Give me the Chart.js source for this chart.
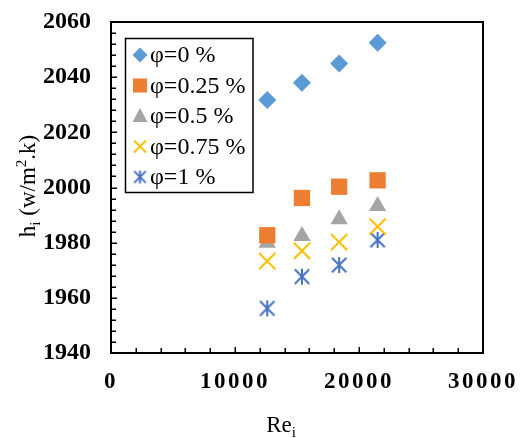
<!DOCTYPE html>
<html>
<head>
<meta charset="utf-8">
<script src="https://cdn.jsdelivr.net/npm/chart.js@4"></script>
<style>
  html, body { margin: 0; padding: 0; background: #fff; }
  #wrap { width: 524px; height: 438px; }
</style>
</head>
<body>
<div id="wrap"><canvas id="chart" width="524" height="438"></canvas></div>
<script>
// data
const reValues = [12600, 15400, 18400, 21500];
const hPhi0 = [2031.7, 2038.0, 2045.0, 2052.5];
const hPhi025 = [1982.7, 1996.2, 2000.3, 2002.6];
const hPhi05 = [1980.0, 1982.4, 1988.5, 1993.3];
const hPhi075 = [1973.3, 1977.0, 1980.2, 1985.8];
const hPhi1 = [1956.2, 1967.7, 1971.9, 1981.0];
const seriesLabels = ["φ=0 %", "φ=0.25 %", "φ=0.5 %", "φ=0.75 %", "φ=1 %"];
const xTicks = [0, 10000, 20000, 30000];
const yTicks = [1940, 1960, 1980, 2000, 2020, 2040, 2060];

const FONT = "'Liberation Serif', 'Times New Roman', serif";

// asterisk marker (x plus vertical bar) as a small canvas
function makeAsterisk(size, color, lw) {
  const c = document.createElement("canvas");
  c.width = size; c.height = size;
  const g = c.getContext("2d");
  const m = size / 2, a = size / 2 - 1, d = a * 0.9;
  g.strokeStyle = color;
  g.lineWidth = lw;
  g.beginPath();
  g.moveTo(m, m - a); g.lineTo(m, m + a);
  g.moveTo(m - d, m - d); g.lineTo(m + d, m + d);
  g.moveTo(m + d, m - d); g.lineTo(m - d, m + d);
  g.stroke();
  return c;
}

const colors = ["#5B9BD5", "#ED7D31", "#A5A5A5", "#FFC000", "#4472C4"];
const toPts = (ys) => ys.map((y, i) => ({ x: reValues[i], y: y }));

const datasets = [
  { label: seriesLabels[0], data: toPts(hPhi0), pointStyle: "rectRot", pointRadius: 9,
    backgroundColor: colors[0], borderColor: colors[0], borderWidth: 0 },
  { label: seriesLabels[1], data: toPts(hPhi025), pointStyle: "rect", pointRadius: 11.5,
    backgroundColor: colors[1], borderColor: colors[1], borderWidth: 0 },
  { label: seriesLabels[2], data: toPts(hPhi05), pointStyle: "triangle", pointRadius: 10,
    backgroundColor: colors[2], borderColor: colors[2], borderWidth: 0 },
  { label: seriesLabels[3], data: toPts(hPhi075), pointStyle: "crossRot", pointRadius: 11.5,
    backgroundColor: colors[3], borderColor: colors[3], borderWidth: 2 },
  { label: seriesLabels[4], data: toPts(hPhi1), pointStyle: makeAsterisk(18, colors[4], 2),
    pointRadius: 9, backgroundColor: colors[4], borderColor: colors[4], borderWidth: 0 },
];

// small legend markers
function legendMarker(ctx, i, x, y) {
  ctx.save();
  ctx.fillStyle = colors[i];
  ctx.strokeStyle = colors[i];
  ctx.beginPath();
  if (i === 0) {
    const r = 7.5;
    ctx.moveTo(x, y - r); ctx.lineTo(x + r, y); ctx.lineTo(x, y + r); ctx.lineTo(x - r, y);
    ctx.closePath(); ctx.fill();
  } else if (i === 1) {
    ctx.fillRect(x - 7, y - 7, 14, 14);
  } else if (i === 2) {
    ctx.moveTo(x, y - 8); ctx.lineTo(x + 7.5, y + 6); ctx.lineTo(x - 7.5, y + 6);
    ctx.closePath(); ctx.fill();
  } else if (i === 3) {
    ctx.lineWidth = 2;
    const d = 6;
    ctx.moveTo(x - d, y - d); ctx.lineTo(x + d, y + d);
    ctx.moveTo(x + d, y - d); ctx.lineTo(x - d, y + d);
    ctx.stroke();
  } else {
    ctx.drawImage(makeAsterisk(15, colors[4], 2), x - 7.5, y - 7.5);
  }
  ctx.restore();
}

const framePlugin = {
  id: "frame",
  beforeDraw(chart) {
    const s = chart.scales.x;
    if (s && !s._spaced) {
      const orig = s.drawLabels;
      s.drawLabels = function (area) {
        this.ctx.save();
        this.ctx.letterSpacing = "2.5px";
        orig.call(this, area);
        this.ctx.restore();
      };
      s._spaced = true;
    }
  },
  afterDraw(chart) {
    const ctx = chart.ctx;
    const a = chart.chartArea;
    const xs = chart.scales.x, ys = chart.scales.y;
    ctx.save();
    ctx.strokeStyle = "#000";
    // inside tick marks
    ctx.lineWidth = 1.5;
    ctx.beginPath();
    for (let v = ys.min; v <= ys.max; v += 4) {
      const py = Math.round(ys.getPixelForValue(v)) + 0.25;
      const len = (v - ys.min) % 20 === 0 ? 6 : 5;
      ctx.moveTo(a.left, py); ctx.lineTo(a.left + len, py);
    }
    for (let v = xs.min; v <= xs.max; v += 2000) {
      const px = Math.round(xs.getPixelForValue(v)) + 0.25;
      const len = v % 10000 === 0 ? 6 : 5;
      ctx.moveTo(px, a.bottom); ctx.lineTo(px, a.bottom - len);
    }
    ctx.stroke();
    // box
    ctx.lineWidth = 2;
    ctx.strokeRect(a.left, a.top, a.right - a.left, a.bottom - a.top);

    // legend
    const lx = 125.5, ly = 38.5, lw = 127.5, lh = 154;
    ctx.fillStyle = "#fff";
    ctx.fillRect(lx, ly, lw, lh);
    ctx.lineWidth = 1.5;
    ctx.strokeRect(lx, ly, lw, lh);
    ctx.font = "24px " + FONT;
    ctx.fillStyle = "#000";
    ctx.textBaseline = "middle";
    ctx.textAlign = "left";
    seriesLabels.forEach((t, i) => {
      const ry = 55 + i * 30.5;
      legendMarker(ctx, i, 140, ry);
      ctx.fillStyle = "#000";
      ctx.fillText(t, 150, ry + 1);
    });

    // axis titles with sub/superscripts
    drawRich(ctx, [["h", 0], ["i", 1], [" (w/m", 0], ["2", -1], [".k)", 0]], 27, 186, true, 23);
    drawRich(ctx, [["Re", 0], ["i", 1]], 281, 432, false, 23);
    ctx.restore();
  },
};

// parts: [text, 0 normal | 1 sub | -1 sup]
function drawRich(ctx, parts, cx, cy, rotated, size) {
  ctx.save();
  ctx.fillStyle = "#000";
  ctx.textAlign = "left";
  ctx.textBaseline = "alphabetic";
  const small = Math.round(size * 0.65);
  let total = 0;
  parts.forEach(([t, k]) => {
    ctx.font = (k ? small : size) + "px " + FONT;
    total += ctx.measureText(t).width;
  });
  ctx.translate(cx, cy);
  if (rotated) ctx.rotate(-Math.PI / 2);
  let x = -total / 2;
  const base = rotated ? size * 0.33 : 0;
  parts.forEach(([t, k]) => {
    ctx.font = (k ? small : size) + "px " + FONT;
    const dy = k === 1 ? size * 0.22 : k === -1 ? -size * 0.38 : 0;
    ctx.fillText(t, x, base + dy);
    x += ctx.measureText(t).width;
  });
  ctx.restore();
}

new Chart(document.getElementById("chart").getContext("2d"), {
  type: "scatter",
  data: { datasets: datasets },
  options: {
    responsive: false,
    animation: false,
    devicePixelRatio: 1,
    layout: { padding: { top: 22, right: 41, left: 0, bottom: 0 } },
    plugins: { legend: { display: false }, tooltip: { enabled: false } },
    scales: {
      x: {
        type: "linear",
        min: 0,
        max: 30000,
        afterFit: (s) => { s.height = 85; s.paddingLeft = 0; s.paddingRight = 0; },
        afterBuildTicks: (s) => { s.ticks = xTicks.map((v) => ({ value: v })); },
        border: { display: false },
        grid: { display: false, drawTicks: false },
        ticks: { padding: 15, color: "#000", maxRotation: 0,
          callback: (v) => String(v),
          font: { family: FONT, size: 23, weight: "bold" } },
      },
      y: {
        min: 1940,
        max: 2060,
        afterFit: (s) => { s.width = 111; s.paddingTop = 0; s.paddingBottom = 0; },
        afterBuildTicks: (s) => { s.ticks = yTicks.map((v) => ({ value: v })); },
        border: { display: false },
        grid: { display: false, drawTicks: false },
        ticks: { padding: 20, color: "#000",
          callback: (v) => String(v),
          font: { family: FONT, size: 24, weight: "bold" } },
      },
    },
  },
  plugins: [framePlugin],
});
</script>
</body>
</html>
